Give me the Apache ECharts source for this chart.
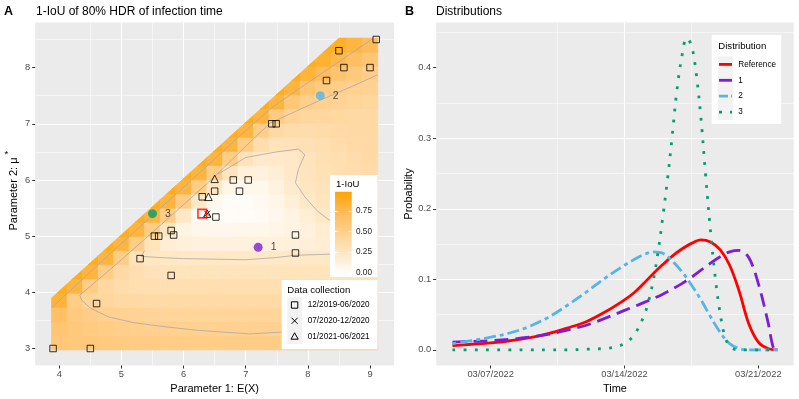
<!DOCTYPE html>
<html><head><meta charset="utf-8">
<script src="https://cdn.jsdelivr.net/npm/echarts@6/dist/echarts.min.js"></script>
<style>html,body{margin:0;padding:0;background:#fff}#c{width:799px;height:399px}</style>
</head><body><div id="c"></div>
<script>
// ================= DATA =================
// Panel A: 1-IoU field (rows bottom -> top), columns at iouX
const iouX = [4.0,4.25,4.5,4.75,5.0,5.25,5.5,5.75,6.0,6.25,6.5,6.75,7.0,7.25,7.5,7.75,8.0,8.25,8.5,8.75,9.0];
const iouYRange = [2.975, 8.525];
const iouRows = [
 [.60,.59,.58,.57,.56,.55,.55,.54,.54,.54,.54,.54,.54,.54,.54,.54,.54,.54,.54,.53,.53],
 [.62,.58,.56,.54,.52,.51,.50,.50,.49,.49,.49,.49,.49,.49,.49,.49,.49,.49,.49,.49,.49],
 [.68,.57,.53,.50,.48,.47,.46,.45,.45,.45,.45,.45,.45,.45,.45,.45,.45,.45,.45,.45,.45],
 [.82,.54,.46,.43,.41,.40,.39,.39,.39,.39,.39,.39,.39,.39,.39,.39,.39,.39,.39,.39,.39],
 [.90,.81,.54,.42,.37,.35,.34,.34,.34,.34,.34,.34,.34,.34,.34,.34,.34,.34,.34,.34,.34],
 [null,.90,.81,.54,.40,.34,.31,.30,.30,.30,.30,.30,.30,.30,.30,.30,.30,.30,.30,.30,.31],
 [null,null,.90,.81,.54,.30,.26,.25,.25,.25,.25,.25,.25,.25,.25,.25,.25,.25,.26,.27,.28],
 [null,null,null,.90,.81,.54,.30,.19,.16,.15,.15,.15,.15,.15,.15,.16,.17,.19,.22,.25,.28],
 [null,null,null,null,.90,.81,.54,.27,.13,.09,.08,.08,.09,.09,.10,.12,.15,.20,.24,.27,.30],
 [null,null,null,null,null,.90,.81,.54,.26,.06,.04,.03,.04,.05,.08,.13,.19,.24,.28,.31,.33],
 [null,null,null,null,null,null,.90,.81,.54,.25,.07,.04,.04,.06,.10,.17,.24,.28,.31,.33,.35],
 [null,null,null,null,null,null,null,.90,.81,.54,.26,.10,.08,.09,.14,.22,.27,.30,.33,.35,.37],
 [null,null,null,null,null,null,null,null,.90,.81,.54,.28,.16,.15,.18,.24,.29,.32,.34,.36,.38],
 [null,null,null,null,null,null,null,null,null,.90,.81,.54,.31,.23,.23,.25,.30,.33,.35,.37,.39],
 [null,null,null,null,null,null,null,null,null,null,.90,.81,.54,.36,.30,.31,.33,.35,.37,.39,.40],
 [null,null,null,null,null,null,null,null,null,null,null,.90,.81,.54,.40,.37,.37,.38,.39,.40,.41],
 [null,null,null,null,null,null,null,null,null,null,null,null,.90,.81,.56,.47,.44,.43,.42,.41,.41],
 [null,null,null,null,null,null,null,null,null,null,null,null,null,.90,.81,.61,.52,.49,.47,.45,.44],
 [null,null,null,null,null,null,null,null,null,null,null,null,null,null,.90,.81,.63,.56,.52,.50,.48],
 [null,null,null,null,null,null,null,null,null,null,null,null,null,null,null,.90,.82,.72,.64,.58,.53],
 [null,null,null,null,null,null,null,null,null,null,null,null,null,null,null,null,.90,.84,.77,.69,.62],
 [null,null,null,null,null,null,null,null,null,null,null,null,null,null,null,null,null,.90,.87,.80,.73]
];
const iouMax = 0.98;

// Contour lines
const contA_x = [3.88,4.3,4.8,5.3,5.8,6.3,6.8,7.4,7.8,8.2,8.6,9.05];
const contA_y = [3.73,4.16,4.67,5.17,5.67,6.17,6.68,7.27,7.58,7.88,8.18,8.52];
const contB_x = [9.12,8.6,8.0,7.55,7.07,6.26,5.6,5.2,4.8,4.5,4.36,4.33,4.6,5.0,5.5,6.0,6.5,7.0,7.39,7.8,8.2,8.7,9.12];
const contB_y = [3.42,3.33,3.3,3.29,3.26,3.32,3.4,3.46,3.56,3.72,3.86,3.95,4.2,4.58,5.07,5.56,6.06,6.6,7.01,7.22,7.42,7.66,7.87];
const contC_x = [5.37,5.32,5.6,6.0,6.5,7.0,7.5,7.8,8.4,8.8,8.95,8.8,8.6,8.35,8.15,7.95,7.8,7.85,7.95,7.85,7.5,7.0,6.55];
const contC_y = [4.74,4.64,4.62,4.6,4.59,4.58,4.62,4.66,4.68,4.75,4.9,5.05,5.15,5.28,5.45,5.7,5.95,6.2,6.45,6.55,6.5,6.4,6.1];

// Data collection points
const sqX = [3.9,4.5,4.6,5.3,5.8,5.53,5.6,5.8,5.84,6.52,6.3,6.5,6.8,7.04,6.9,7.8,7.8,7.42,7.49,8.3,8.58,9.0,8.5,9.1];
const sqY = [3.0,3.0,3.8,4.6,4.3,5.0,5.0,5.1,5.02,5.34,5.7,5.8,6.0,6.0,5.8,5.02,4.7,7.0,7.0,7.77,8.0,8.0,8.3,8.5];
const triX = [6.5,6.4,6.38];
const triY = [6.02,5.7,5.4];
const crossX = [6.38];
const crossY = [5.4];
const refPoint = [6.3, 5.4];
const distNames = ['1','2','3'];
const distX = [7.2, 8.2, 5.5];
const distY = [4.8, 7.5, 5.4];

// Panel B: densities, days relative to 03/07/2022
const refDays = [-2,-1,0,1,2,3,4,5,6,7,7.5,8,8.5,9,9.5,10,10.5,11,11.5,12,12.5,13,13.5,14,14.5,15];
const refProb = [0.006,0.008,0.010,0.013,0.017,0.023,0.031,0.040,0.054,0.071,0.081,0.094,0.108,0.121,0.133,0.143,0.151,0.156,0.153,0.142,0.120,0.083,0.037,0.011,0.002,0.000];
const d1Days = [-2,-1,0,1,2,3,4,5,6,7,8,9,10,10.5,11,11.5,12,12.5,13,13.5,14,14.5,14.8,15];
const d1Prob = [0.011,0.012,0.013,0.015,0.018,0.022,0.028,0.035,0.045,0.056,0.067,0.079,0.094,0.103,0.113,0.123,0.132,0.139,0.141,0.131,0.094,0.040,0.002,0.000];
const d2Days = [-2,-1,0,1,2,3,4,5,6,7,7.5,8,8.5,9,9.5,10,10.5,11,11.5,12,12.5,13,13.5,14,15];
const d2Prob = [0.009,0.013,0.018,0.024,0.033,0.046,0.063,0.082,0.102,0.120,0.128,0.135,0.139,0.137,0.126,0.111,0.092,0.071,0.047,0.025,0.009,0.002,0.000,0.000,0.000];
const d3Days = [-2,-1,0,1,2,3,4,5,6,6.5,7,7.5,8,8.25,8.5,8.75,9,9.25,9.5,9.75,10,10.25,10.5,10.75,11,11.25,11.5,11.75,12,12.25,12.5,12.75,13,14,15];
const d3Prob = [0,0,0,0,0,0,0,0.001,0.002,0.004,0.009,0.021,0.047,0.068,0.098,0.138,0.188,0.242,0.305,0.370,0.416,0.442,0.432,0.392,0.328,0.245,0.168,0.102,0.052,0.019,0.005,0.001,0,0,0];
const seriesNames = ['Reference','1','2','3'];
const dateOrigin = Date.UTC(2022, 2, 7);
const xTicksA = [4,5,6,7,8,9];
const yTicksA = [3,4,5,6,7,8];
const xTicksB = [0,1,2];       // weeks from origin
const yTicksB = [0,0.1,0.2,0.3,0.4];
const cbTicks = [0,0.25,0.5,0.75];
const collectionLabels = ['12/2019-06/2020','07/2020-12/2020','01/2021-06/2021'];

// ================= STYLE =================
const FONT = '"Liberation Sans", Arial, sans-serif';
const PALETTE = ['#FFFFFF', '#FFE8C7', '#FFD191', '#FFBB58', '#FFA500']; // white -> orange (Lab-like)
const COL = ['#FF0000', '#7D1ED6', '#56B4E9', '#009E73'];
const DASH = ['solid', [14, 7], [4, 4, 12, 4], [2.8, 8.4]];
const DIAG_OFFSET = 0.025;

const zip = (a, b) => a.map((v, i) => [v, b[i]]);
const toW = d => d / 7;

function clipDiag(poly, off) {
  const out = [], f = p => p[1] - p[0] - off;
  for (let i = 0; i < poly.length; i++) {
    const a = poly[i], b = poly[(i + 1) % poly.length];
    const fa = f(a), fb = f(b);
    if (fa <= 0) out.push(a);
    if ((fa <= 0) !== (fb <= 0)) {
      const t = fa / (fa - fb);
      out.push([a[0] + t * (b[0] - a[0]), a[1] + t * (b[1] - a[1])]);
    }
  }
  return out;
}
const dxCell = iouX[1] - iouX[0];
const dyCell = (iouYRange[1] - iouYRange[0]) / iouRows.length;
const tileData = [];
iouRows.forEach((row, i) => {
  const yc = iouYRange[0] + (i + 0.5) * dyCell;
  row.forEach((v, j) => { if (v != null) tileData.push([iouX[j], yc, v]); });
});

function fmtDate(w) {
  const d = new Date(dateOrigin + Math.round(w * 7) * 86400000);
  const mm = String(d.getUTCMonth() + 1).padStart(2, '0');
  const dd = String(d.getUTCDate()).padStart(2, '0');
  return mm + '/' + dd + '/' + d.getUTCFullYear();
}

const tickLabel = {color: '#4D4D4D', fontSize: 9.3, fontFamily: FONT};
function axisBase(extra) {
  return Object.assign({
    type: 'value', axisLine: {show: false, onZero: false},
    splitLine: {show: true, showMinLine: false, showMaxLine: false, lineStyle: {color: '#fff', width: 1.1}},
    minorTick: {show: false, splitNumber: 2},
    minorSplitLine: {show: true, lineStyle: {color: '#fff', width: 0.5}},
    nameLocation: 'middle',
    nameTextStyle: {color: '#000', fontSize: 11, fontFamily: FONT}
  }, extra);
}
const ticks = vals => ({show: true, length: 3, lineStyle: {color: '#333', width: 1}, customValues: vals});

const grids = [
  {left: 35.2, top: 22.5, width: 358.9, height: 343, show: true, backgroundColor: '#EBEBEB', borderWidth: 0, outerBoundsMode: 'none', containLabel: false},
  {left: 436.2, top: 22.5, width: 357.5, height: 343, show: true, backgroundColor: '#EBEBEB', borderWidth: 0, outerBoundsMode: 'none', containLabel: false},
  {left: 335, top: 191.7, width: 16.7, height: 81, show: false, outerBoundsMode: 'none', containLabel: false}
];

const xAxes = [
  axisBase({gridIndex: 0, min: 3.6125, max: 9.3875, splitNumber: 5, axisTick: ticks(xTicksA),
    axisLabel: Object.assign({margin: 4.5, customValues: xTicksA}, tickLabel),
    name: 'Parameter 1: E(X)', nameGap: 17}),
  axisBase({gridIndex: 1, min: toW(-2.85), max: toW(15.85), splitNumber: 2, axisTick: ticks(xTicksB),
    axisLabel: Object.assign({margin: 4.5, customValues: xTicksB, formatter: v => fmtDate(v)}, tickLabel),
    name: 'Time', nameGap: 17}),
  {type: 'value', gridIndex: 2, show: false, min: 0, max: 1}
];
const yAxes = [
  axisBase({gridIndex: 0, min: 2.6975, max: 8.8025, splitNumber: 5, axisTick: ticks(yTicksA),
    axisLabel: Object.assign({margin: 5, customValues: yTicksA}, tickLabel),
    name: 'Parameter 2: μ', nameGap: 15.5}),
  axisBase({gridIndex: 1, min: -0.0221, max: 0.4641, splitNumber: 5, axisTick: ticks(yTicksB),
    axisLabel: Object.assign({margin: 5, customValues: yTicksB, formatter: v => v.toFixed(1)}, tickLabel),
    name: 'Probability', nameGap: 20.5}),
  {type: 'value', gridIndex: 2, position: 'right', min: 0, max: 0.985, z: 60,
    axisLine: {show: false, onZero: false}, splitLine: {show: false},
    axisTick: {show: true, inside: true, length: 3.3, lineStyle: {color: '#fff', width: 1}, customValues: cbTicks},
    axisLabel: {show: true, customValues: cbTicks, margin: 4.3, fontSize: 8.2, color: '#1A1A1A', fontFamily: FONT,
      formatter: v => v.toFixed(2)}},
  {type: 'value', gridIndex: 2, position: 'left', min: 0, max: 0.985, z: 60,
    axisLine: {show: false, onZero: false}, splitLine: {show: false}, axisLabel: {show: false},
    axisTick: {show: true, inside: true, length: 3.3, lineStyle: {color: '#fff', width: 1}, customValues: cbTicks}}
];

const contourStyle = {color: '#A8A8A8', width: 0.8};
const contour = (xs, ys) => ({type: 'line', xAxisIndex: 0, yAxisIndex: 0, data: zip(xs, ys), symbol: 'none',
  lineStyle: contourStyle, z: 2, silent: true, animation: false});

const openStyle = {color: 'rgba(0,0,0,0)', borderColor: '#000', borderWidth: 1};

const series = [
  {type: 'custom', xAxisIndex: 0, yAxisIndex: 0, z: 1, silent: true, encode: {x: 0, y: 1}, data: tileData,
    renderItem: function (params, api) {
      const xc = api.value(0), yc = api.value(1), hx = dxCell / 2, hy = dyCell / 2;
      let poly = [[xc - hx, yc - hy], [xc + hx, yc - hy], [xc + hx, yc + hy], [xc - hx, yc + hy]];
      poly = clipDiag(poly, DIAG_OFFSET);
      if (poly.length < 3) return null;
      const col = api.visual('color');
      return {type: 'polygon', shape: {points: poly.map(p => api.coord(p))}, style: {fill: col, stroke: col, lineWidth: 0.7}};
    }},
  contour(contA_x, contA_y),
  contour(contB_x, contB_y),
  contour(contC_x, contC_y),
  {type: 'scatter', xAxisIndex: 0, yAxisIndex: 0, z: 3, data: zip(sqX, sqY), symbol: 'rect', symbolSize: 6.5, itemStyle: openStyle},
  {type: 'scatter', xAxisIndex: 0, yAxisIndex: 0, z: 3, data: zip(triX, triY), symbol: 'triangle', symbolSize: 7.5, itemStyle: openStyle},
  {type: 'scatter', xAxisIndex: 0, yAxisIndex: 0, z: 3, data: zip(crossX, crossY), symbol: 'path://M0,0L10,10M10,0L0,10', symbolSize: 6, itemStyle: openStyle},
  {type: 'scatter', xAxisIndex: 0, yAxisIndex: 0, z: 4, data: [refPoint], symbol: 'rect', symbolSize: 8.5,
    itemStyle: {color: 'rgba(0,0,0,0)', borderColor: '#FF0000', borderWidth: 1.6}},
  {type: 'scatter', xAxisIndex: 0, yAxisIndex: 0, z: 4, symbol: 'circle', symbolSize: 9,
    data: distX.map((x, i) => ({name: distNames[i], value: [x, distY[i]], itemStyle: {color: COL[i + 1]}})),
    label: {show: true, position: 'right', distance: 8, formatter: p => p.name, fontSize: 10.5, color: '#1A1A1A', fontFamily: FONT}}
];
const bDays = [refDays, d1Days, d2Days, d3Days];
const bProb = [refProb, d1Prob, d2Prob, d3Prob];
seriesNames.forEach((nm, k) => {
  series.push({type: 'line', name: nm, xAxisIndex: 1, yAxisIndex: 1, z: 3 + k, symbol: 'none', smooth: 0.35,
    data: bDays[k].map((d, i) => [toW(d), bProb[k][i]]),
    lineStyle: {color: COL[k], width: 2.8, type: DASH[k], cap: 'butt'}});
});

// ================= LEGENDS / TITLES (graphic) =================
const T = (x, y, s, size, bold) => ({type: 'text', z: 70, style: {text: s, x: x, y: y, fill: '#000', fontSize: size, fontFamily: FONT,
  fontWeight: bold ? 'bold' : 'normal', textAlign: 'left', align: 'left', textVerticalAlign: 'middle', verticalAlign: 'middle'}});
const gradStops = PALETTE.map((c, i) => ({offset: i / (PALETTE.length - 1), color: c}));
const graphic = [
  T(4, 11.5, 'A', 12.5, true),
  T(36, 11.5, '1-IoU of 80% HDR of infection time', 12),
  T(405, 11.5, 'B', 12.5, true),
  T(436, 11.5, 'Distributions', 12),
  T(4.5, 154.5, '*', 9.5),
  // colorbar legend
  {type: 'rect', z: 50, shape: {x: 330, y: 175, width: 47.5, height: 102}, style: {fill: '#fff'}},
  T(336, 184.5, '1-IoU', 9.6),
  {type: 'rect', z: 55, shape: {x: 335, y: 191.7, width: 16.7, height: 83.3},
    style: {fill: {type: 'linear', x: 0, y: 1, x2: 0, y2: 0, colorStops: gradStops}}},
  // data collection legend
  {type: 'rect', z: 50, shape: {x: 281.7, y: 280, width: 95.8, height: 69.3}, style: {fill: '#fff'}},
  T(287.3, 290, 'Data collection', 9.6),
  {type: 'rect', z: 55, shape: {x: 287.3, y: 297, width: 14.6, height: 47.2}, style: {fill: '#F2F2F2'}},
  {type: 'rect', z: 60, shape: {x: 291.4, y: 301.8, width: 6.4, height: 6.4}, style: {fill: 'none', stroke: '#000', lineWidth: 1}},
  {type: 'line', z: 60, shape: {x1: 291.6, y1: 317.8, x2: 297.6, y2: 323.8}, style: {stroke: '#000', lineWidth: 1}},
  {type: 'line', z: 60, shape: {x1: 291.6, y1: 323.8, x2: 297.6, y2: 317.8}, style: {stroke: '#000', lineWidth: 1}},
  {type: 'polygon', z: 60, shape: {points: [[294.6, 332.8], [298.2, 339.2], [291.0, 339.2]]}, style: {fill: 'none', stroke: '#000', lineWidth: 1}},
  T(307.7, 305, collectionLabels[0], 8.2),
  T(307.7, 321, collectionLabels[1], 8.2),
  T(307.7, 336.7, collectionLabels[2], 8.2),
  // distribution legend
  {type: 'rect', z: 50, shape: {x: 711.7, y: 35, width: 69.5, height: 89}, style: {fill: '#fff'}},
  T(718.3, 46.5, 'Distribution', 9.6),
  {type: 'rect', z: 55, shape: {x: 717.7, y: 56.5, width: 15.5, height: 63.5}, style: {fill: '#F2F2F2'}}
];
const keyY = [64.4, 80.3, 96.2, 112.1];
const keyDash = [null, [14, 7], [9, 3, 3, 4], [3, 8]];
seriesNames.forEach((nm, k) => {
  graphic.push({type: 'line', z: 60, shape: {x1: 719, y1: keyY[k], x2: 732, y2: keyY[k]},
    style: {stroke: COL[k], lineWidth: 2.8, lineDash: keyDash[k], lineCap: 'butt'}});
  graphic.push(T(738.3, keyY[k], nm, 8.2));
});

const chart = echarts.init(document.getElementById('c'), null, {renderer: 'canvas'});
chart.setOption({
  animation: false,
  backgroundColor: '#fff',
  textStyle: {fontFamily: FONT},
  grid: grids, xAxis: xAxes, yAxis: yAxes,
  visualMap: {type: 'continuous', show: false, seriesIndex: 0, dimension: 2, min: 0, max: iouMax,
    inRange: {color: PALETTE}},
  series: series,
  graphic: graphic
});
</script></body></html>
